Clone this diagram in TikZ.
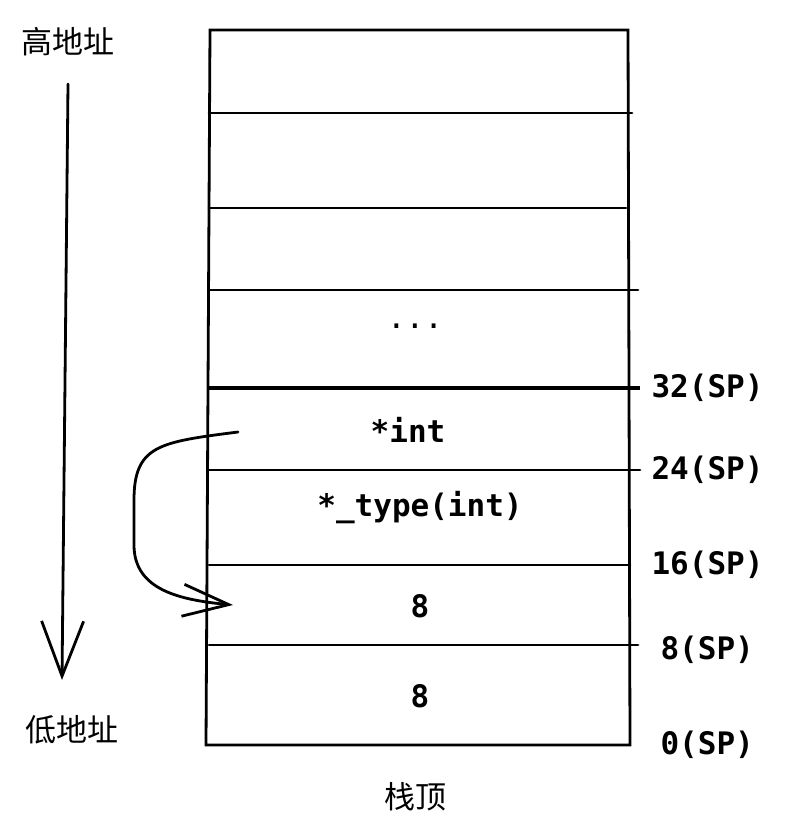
\documentclass[tikz,border=0pt]{standalone}
\usepackage{fontspec}
\setmonofont{DejaVu Sans Mono}
\newfontfamily\cjk{Noto Sans CJK SC}
\usetikzlibrary{arrows.meta,calc}

\tikzset{
  stackline/.style={line width=2.8pt,black,line cap=round},
  celltext/.style={font=\fontsize{31}{36}\selectfont\ttfamily\bfseries},
  sptext/.style={font=\fontsize{31}{36}\selectfont\ttfamily\bfseries,anchor=west},
  cjktext/.style={font=\fontsize{31}{36}\selectfont\cjk}
}

\begin{document}
\begin{tikzpicture}[x=1pt,y=-1pt]
\useasboundingbox (0,0) rectangle (785,840);

% frame of the stack
\coordinate (TL) at (210,30);
\coordinate (TR) at (628,30);
\coordinate (BL) at (206,745);
\coordinate (BR) at (630,745);
\draw[stackline] (TL) -- (TR) -- (BR) -- (BL) -- cycle;

% slot borders
\foreach \y/\xr in {113/632,208/626,290/638,470/640,565/630,645/638}
  \draw[stackline] (209,\y) -- (\xr,\y);
\draw[line width=4pt] (207,388) -- (640,388);

% cell contents
\node[celltext,font=\fontsize{31}{36}\selectfont\ttfamily] (dots) at (415,326) {...};
\node[celltext] (ptr) at (408,430) {*int};
\node[celltext] (typ) at (420,508) {*\_type(int)};
\node[celltext] (v8a) at (420,606) {8};
\node[celltext] (v8b) at (420,696) {8};

% offsets
\node[sptext] (sp32) at (648,388) {32(SP)};
\node[sptext] (sp24) at (648,470) {24(SP)};
\node[sptext] (sp16) at (648,565) {16(SP)};
\node[sptext] (sp8) at (657,650) {8(SP)};
\node[sptext] (sp0) at (657,745) {0(SP)};

% addresses
\node[cjktext] (high) at (68,42) {高地址};
\node[cjktext] (low) at (72,730) {低地址};
\node[cjktext] (top) at (415,797) {栈顶};

\coordinate (aS) at (68,84);
\coordinate (aE) at (62,680);
\draw[stackline,-{Straight Barb[length=55pt,width=42pt]}] (aS) -- (aE);

% pointer
\coordinate (pS) at (238,432);
\coordinate (pE) at (233,605);
\draw[stackline,-{Straight Barb[length=46pt,width=32pt]}]
  (pS) .. controls (160,442) and (134,445) .. (134,500)
  -- (134,545) .. controls (134,590) and (180,600) .. (pE);

\end{tikzpicture}
\end{document}
